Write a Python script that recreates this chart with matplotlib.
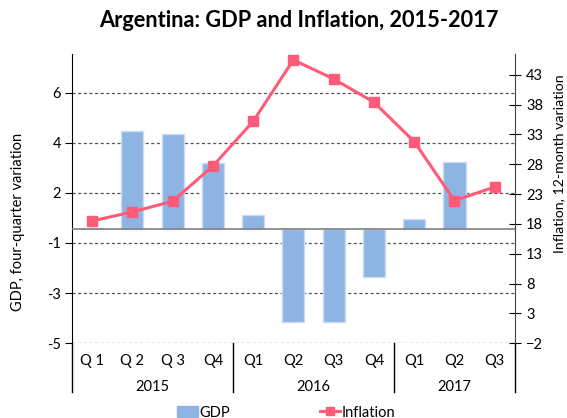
import numpy as np
import matplotlib.pyplot as plt
from matplotlib.ticker import FormatStrFormatter
from matplotlib.lines import Line2D
from matplotlib.patches import Patch

plt.rcParams['font.family'] = ['Lato', 'DejaVu Sans']

# data
quarters = ["Q 1", "Q 2", "Q 3", "Q4", "Q1", "Q2", "Q3", "Q4", "Q1", "Q2", "Q3"]
years = ["2015", "2016", "2017"]
year_spans = [(0, 4), (4, 8), (8, 11)]
gdp = [0.05, 4.3, 4.2, 2.9, 0.64, -4.05, -4.05, -2.08, 0.46, 2.94, np.nan]
inflation = [18.5, 20.0, 21.8, 27.7, 35.2, 45.5, 42.3, 38.4, 31.8, 21.9, 24.2]

bar_color = "#8EB4E3"
line_color = "#FF5A78"

x = np.arange(len(quarters))

fig = plt.figure(figsize=(5.67, 4.18), dpi=100)
ax = fig.add_axes([0.127, 0.179, 0.781, 0.692])
ax2 = ax.twinx()

# bars, left axis
ax.bar(x, gdp, width=0.55, color=bar_color, edgecolor="#C9DCF2", linewidth=1, zorder=2)
ax.axhline(0, color="#808080", lw=1.2, zorder=3)
ax.set_xlim(-0.5, len(quarters) - 0.5)
ax.set_ylim(-5, 7.7)
left_ticks = -5 + 2.2 * np.arange(6)
ax.set_yticks(left_ticks)
ax.yaxis.set_major_formatter(FormatStrFormatter('%.0f'))
ax.yaxis.grid(True, linestyle=(0, (2.5, 2)), color="#555555", lw=0.9, zorder=0)
ax.set_axisbelow(True)
ax.tick_params(axis='y', direction='out', length=5, labelsize=10.5, pad=3)
ax.set_xticks([])
ax.set_ylabel("GDP, four-quarter variation", fontsize=10.5)
ax.yaxis.set_label_coords(-0.106, 0.42)

# line, right axis
ax2.plot(x, inflation, color=line_color, lw=2.2, marker='s', markersize=7, zorder=4)
ax2.set_ylim(-2, 46.5)
ax2.set_yticks(np.arange(-2, 44, 5))
ax2.tick_params(axis='y', direction='inout', length=8, labelsize=10.5, pad=4)
ax2.set_ylabel("Inflation, 12-month variation", fontsize=10.2)
ax2.yaxis.set_label_coords(1.086, 0.62)

for a in (ax, ax2):
    a.spines['top'].set_visible(False)
    a.spines['bottom'].set_visible(False)
    a.spines['left'].set_bounds(-5, 7.7)
ax.spines['right'].set_visible(False)
ax2.spines['left'].set_visible(False)
ax2.spines['right'].set_color("#404040")
ax.spines['left'].set_color("#000000")

# category axis below plot
trans = ax.get_xaxis_transform()
for i, q in enumerate(quarters):
    ax.text(i, -0.06, q, transform=trans, ha='center', va='center', fontsize=10.5)
for (a, b), yr in zip(year_spans, years):
    ax.text((a + b - 1) / 2, -0.15, yr, transform=trans, ha='center', va='center', fontsize=10.5)
for b in [-0.5, 3.5, 7.5, 10.5]:
    ax.add_line(Line2D([b, b], [0, -0.17], transform=trans, color="#000000", lw=1, clip_on=False))

# legend
handles = [Patch(facecolor=bar_color, edgecolor=bar_color),
           Line2D([], [], color=line_color, lw=2.2, marker='s', markersize=6)]
fig.legend(handles, ["GDP", "Inflation"], loc='lower center', bbox_to_anchor=(0.505, -0.035),
           ncol=2, frameon=False, fontsize=10.5, columnspacing=6.2, handlelength=1.4, handletextpad=0.1)

fig.suptitle("Argentina: GDP and Inflation, 2015-2017", x=0.527, y=0.975, fontsize=15.7, fontweight='bold')

fig.savefig("out.png", dpi=100)
